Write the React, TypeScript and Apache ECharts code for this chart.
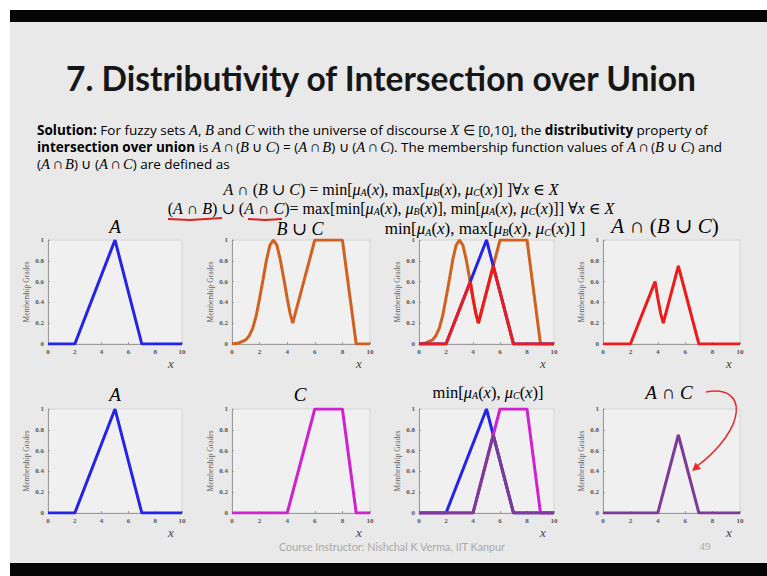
import React, { useEffect, useRef } from "react";
import * as echarts from "echarts";

// ---------- data ----------
const xTicks = [0, 2, 4, 6, 8, 10];
const setA = [[0, 0], [2, 0], [5, 1], [7, 0], [10, 0]];
const setC = [[0, 0], [4, 0], [6, 1], [8, 1], [9, 0], [10, 0]];
const unionBC = [
  [0, 0], [0.5, 0.01], [1, 0.04], [1.25, 0.08], [1.5, 0.15], [1.75, 0.27], [2, 0.44],
  [2.25, 0.62], [2.5, 0.81], [2.75, 0.95], [3, 1], [3.25, 0.95], [3.5, 0.81],
  [3.75, 0.63], [4, 0.44], [4.2, 0.3], [4.4, 0.2], [6, 1], [8, 1], [9, 0], [10, 0],
];
const minAunion = [[0, 0], [2, 0], [3.8, 0.6], [4, 0.44], [4.2, 0.3], [4.4, 0.2], [5.5, 0.75], [7, 0], [10, 0]];
const minAC = [[0, 0], [4, 0], [5.5, 0.75], [7, 0], [10, 0]];

const BLUE = "#2323ea";
const ORANGE = "#d2601f";
const RED = "#ec1c1c";
const MAGENTA = "#d021d0";
const PURPLE = "#7b3b97";

const panelSeries: { data: number[][]; color: string }[][] = [
  [{ data: setA, color: BLUE }],
  [{ data: unionBC, color: ORANGE }],
  [{ data: unionBC, color: ORANGE }, { data: setA, color: BLUE }, { data: minAunion, color: RED }],
  [{ data: minAunion, color: RED }],
  [{ data: setA, color: BLUE }],
  [{ data: setC, color: MAGENTA }],
  [{ data: setA, color: BLUE }, { data: setC, color: MAGENTA }, { data: minAC, color: PURPLE }],
  [{ data: minAC, color: PURPLE }],
];

// ---------- layout ----------
const cols = [[48, 182], [232, 370], [419, 554], [603, 740]];
const rows = [[240, 344], [409, 513]];

const R = (parts: [string, string][]) => parts.map(([s, t]) => `{${s}|${t}}`).join("");

const SERIF = "'Liberation Serif', 'DejaVu Serif', serif";
const SANS = "Lato, 'Open Sans', sans-serif";
const BODY = "'Open Sans', Lato, sans-serif";

const BFS = 13.5;
const bodyRich = {
  n: { fontFamily: BODY, fontSize: BFS, color: "#1e1e1e", verticalAlign: "middle", lineHeight: 14 },
  b: { fontFamily: BODY, fontSize: BFS, fontWeight: "bold", color: "#1e1e1e", verticalAlign: "middle", lineHeight: 14 },
  i: { fontFamily: SERIF, fontSize: 14.6, fontStyle: "italic", color: "#1e1e1e", verticalAlign: "middle", lineHeight: 14 },
};

const mathRich = (fs: number) => ({
  n: { fontFamily: SERIF, fontSize: fs, color: "#1e1e1e", verticalAlign: "middle", lineHeight: fs + 1 },
  i: { fontFamily: SERIF, fontSize: fs, fontStyle: "italic", color: "#1e1e1e", verticalAlign: "middle", lineHeight: fs + 1 },
  s: { fontFamily: SERIF, fontSize: Math.round(fs * 0.6), fontStyle: "italic", color: "#1e1e1e", verticalAlign: "bottom", lineHeight: Math.round(fs * 0.6) },
});

const line1 = R([
  ["b", "Solution:"], ["n", " For fuzzy sets "], ["i", "A"], ["n", ", "], ["i", "B"], ["n", " and "], ["i", "C"],
  ["n", " with the universe of discourse "], ["i", "X"], ["n", " ∈ [0,10], the "], ["b", "distributivity"], ["n", " property of"],
]);
const line2 = R([
  ["b", "intersection over union"], ["n", " is "], ["i", "A"], ["n", " ∩ ("], ["i", "B"], ["n", " ∪ "], ["i", "C"], ["n", ") = ("],
  ["i", "A"], ["n", " ∩ "], ["i", "B"], ["n", ") ∪ ("], ["i", "A"], ["n", " ∩ "], ["i", "C"],
  ["n", "). The membership function values of "], ["i", "A"], ["n", " ∩ ("], ["i", "B"], ["n", " ∪ "], ["i", "C"], ["n", ") and"],
]);
const line3 = R([
  ["n", "("], ["i", "A"], ["n", " ∩ "], ["i", "B"], ["n", ") ∪ ("], ["i", "A"], ["n", " ∩ "], ["i", "C"], ["n", ") are defined as"],
]);

const mu = (k: string): [string, string][] => [["i", "μ"], ["s", k], ["n", "("], ["i", "x"], ["n", ")"]];

const formula1 = R([
  ["i", "A"], ["n", " ∩ ("], ["i", "B"], ["n", " ∪ "], ["i", "C"], ["n", ") = min["], ...mu("A"), ["n", ", max["],
  ...mu("B"), ["n", ", "], ...mu("C"), ["n", "] ]∀"], ["i", "x"], ["n", " ∈ "], ["i", "X"],
]);
const formula2 = R([
  ["n", "("], ["i", "A"], ["n", " ∩ "], ["i", "B"], ["n", ") ∪ ("], ["i", "A"], ["n", " ∩ "], ["i", "C"], ["n", ")= max[min["],
  ...mu("A"), ["n", ", "], ...mu("B"), ["n", "], min["], ...mu("A"), ["n", ", "], ...mu("C"), ["n", "]] ∀"],
  ["i", "x"], ["n", " ∈ "], ["i", "X"],
]);

const panelTitles: { text: string; x: number; y: number; fs: number }[] = [
  { text: R([["i", "A"]]), x: 115, y: 226, fs: 19 },
  { text: R([["i", "B"], ["n", " ∪ "], ["i", "C"]]), x: 300, y: 229, fs: 18 },
  { text: R([["n", "min["], ...mu("A"), ["n", ", max["], ...mu("B"), ["n", ", "], ...mu("C"), ["n", "] ]"]]), x: 485, y: 228, fs: 17 },
  { text: R([["i", "A"], ["n", " ∩ ("], ["i", "B"], ["n", " ∪ "], ["i", "C"], ["n", ")"]]), x: 665, y: 226, fs: 21 },
  { text: R([["i", "A"]]), x: 115, y: 394, fs: 19 },
  { text: R([["i", "C"]]), x: 300, y: 394, fs: 19 },
  { text: R([["n", "min["], ...mu("A"), ["n", ", "], ...mu("C"), ["n", "]"]]), x: 488, y: 392, fs: 16.5 },
  { text: R([["i", "A"], ["n", " ∩ "], ["i", "C"]]), x: 669, y: 392, fs: 19 },
];

export default function App() {
  const ref = useRef<HTMLDivElement>(null);
  useEffect(() => {
    document.body.style.margin = "0";
    if (!ref.current) return;
    const chart = echarts.init(ref.current, undefined, { renderer: "svg" });

    const grids: any[] = [];
    const xAxes: any[] = [];
    const yAxes: any[] = [];
    const series: any[] = [];
    const graphics: any[] = [];

    for (let p = 0; p < 8; p++) {
      const [l, r] = cols[p % 4];
      const [t, b] = rows[Math.floor(p / 4)];
      grids.push({
        left: l, top: t, width: r - l, height: b - t, show: true,
        backgroundColor: "#f0f0f0", borderColor: "#d6d6d6", borderWidth: 1,
      });
      xAxes.push({
        type: "value", gridIndex: p, min: xTicks[0], max: xTicks[xTicks.length - 1], interval: 2,
        axisLine: { show: true, onZero: false, lineStyle: { color: "#9a9a9a", width: 1 } },
        axisTick: { show: true, inside: true, length: 2, lineStyle: { color: "#9a9a9a" } },
        splitLine: { show: false },
        axisLabel: { fontFamily: SERIF, fontSize: 7, color: "#555", margin: 4, fontWeight: "bold" },
      });
      yAxes.push({
        type: "value", gridIndex: p, min: 0, max: 1, interval: 0.2,
        axisLine: { show: true, onZero: false, lineStyle: { color: "#9a9a9a", width: 1 } },
        axisTick: { show: true, inside: true, length: 2, lineStyle: { color: "#9a9a9a" } },
        splitLine: { show: false },
        axisLabel: { fontFamily: SERIF, fontSize: 7, color: "#555", margin: 4, fontWeight: "bold" },
        name: "Membership Grades", nameLocation: "middle", nameGap: 18, nameRotate: 90,
        nameTextStyle: { fontFamily: SERIF, fontSize: 7.5, color: "#666" },
      });
      panelSeries[p].forEach((s) => {
        series.push({
          type: "line", xAxisIndex: p, yAxisIndex: p, data: s.data, showSymbol: false, symbol: "none",
          lineStyle: { color: s.color, width: 3 }, itemStyle: { color: s.color }, z: 3,
        });
      });
      graphics.push({
        type: "text", left: r - 14, top: b + 13,
        style: { text: "x", fontFamily: SERIF, fontStyle: "italic", fontSize: 13, fill: "#444" },
      });
      const pt = panelTitles[p];
      graphics.push({
        type: "text", x: pt.x, y: pt.y,
        style: { text: pt.text, rich: mathRich(pt.fs), align: "center", verticalAlign: "middle" },
      });
    }

    const option: any = {
      animation: false,
      backgroundColor: "#ffffff",
      grid: grids,
      xAxis: xAxes,
      yAxis: yAxes,
      series,
      graphic: [
        { type: "rect", shape: { x: 10, y: 22, width: 757, height: 541 }, style: { fill: "#e9e9e9" }, z: -10 },
        { type: "rect", shape: { x: 10, y: 10, width: 757, height: 12 }, style: { fill: "#050505" }, z: -9 },
        { type: "rect", shape: { x: 10, y: 563, width: 757, height: 13 }, style: { fill: "#050505" }, z: -9 },
        {
          type: "text", x: 66, y: 78,
          style: { text: "7. Distributivity of Intersection over Union", fontFamily: SANS, fontWeight: "bold", fontSize: 33.5, fill: "#161616", verticalAlign: "middle" },
        },
        { type: "text", x: 37, y: 130, style: { text: line1, rich: bodyRich, verticalAlign: "middle" } },
        { type: "text", x: 37, y: 147, style: { text: line2, rich: bodyRich, verticalAlign: "middle" } },
        { type: "text", x: 37, y: 164, style: { text: line3, rich: bodyRich, verticalAlign: "middle" } },
        { type: "text", x: 391, y: 189, style: { text: formula1, rich: mathRich(16), align: "center", verticalAlign: "middle" } },
        { type: "text", x: 391, y: 208, style: { text: formula2, rich: mathRich(16), align: "center", verticalAlign: "middle" } },
        { type: "polyline", shape: { points: [[168, 219], [190, 220], [222, 218]] }, style: { stroke: "#e02020", lineWidth: 2, fill: "none" } },
        { type: "polyline", shape: { points: [[248, 219], [265, 220], [282, 219]] }, style: { stroke: "#e02020", lineWidth: 2, fill: "none" } },
        {
          type: "bezierCurve",
          shape: { x1: 706, y1: 392, cpx1: 748, cpy1: 384, cpx2: 748, cpy2: 428, x2: 696, y2: 467 },
          style: { stroke: "#ec2a2a", lineWidth: 1.5, fill: "none" },
        },
        { type: "polygon", shape: { points: [[692, 471], [701, 469], [695.5, 462.5]] }, style: { fill: "#ec2a2a" } },
        {
          type: "text", x: 392, y: 546,
          style: { text: "Course Instructor: Nishchal K Verma, IIT Kanpur", fontFamily: SANS, fontSize: 10.8, fill: "#a8a8a8", align: "center", verticalAlign: "middle" },
        },
        { type: "text", x: 705, y: 546, style: { text: "49", fontFamily: SERIF, fontSize: 11, fill: "#a8a8a8", align: "center", verticalAlign: "middle" } },
        ...graphics,
      ],
    };
    chart.setOption(option);
    return () => chart.dispose();
  }, []);
  return <div ref={ref} style={{ width: 767, height: 576 }} />;
}
